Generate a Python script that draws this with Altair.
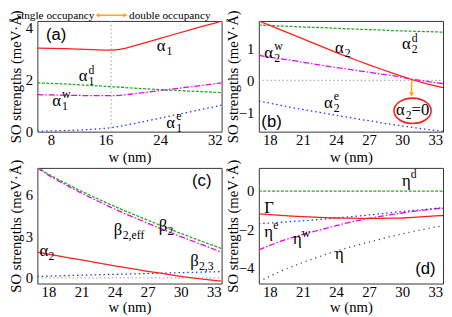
import altair as alt
import pandas as pd

SERIF = "Liberation Serif, Times New Roman, Times, serif"
SANS = "Liberation Sans, Arial, Helvetica, sans-serif"
RED = "#ff1f1f"
GREEN = "#22aa22"
MAGENTA = "#f000f0"
BLUE = "#2a2aff"
GRAY = "#999999"
DARK = "#444444"
ORANGE = "#ffa41c"
YTITLE = "SO strengths (meV·Å)"
XTITLE = "w (nm)"

# ---------------- panel (a) data ----------------
w_a = [6, 8, 10, 12, 14, 16, 17, 18, 19, 20, 22, 24, 26, 28, 30, 32, 33]
alpha1 = [3.21, 3.20, 3.19, 3.17, 3.15, 3.13, 3.13, 3.16, 3.21, 3.28, 3.43, 3.58, 3.73, 3.88, 4.03, 4.17, 4.24]
alpha1_d = [1.87, 1.85, 1.83, 1.80, 1.77, 1.74, 1.72, 1.71, 1.69, 1.67, 1.64, 1.61, 1.59, 1.56, 1.54, 1.51, 1.50]
alpha1_w = [1.42, 1.41, 1.40, 1.39, 1.38, 1.38, 1.38, 1.39, 1.42, 1.45, 1.51, 1.58, 1.64, 1.71, 1.77, 1.84, 1.87]
alpha1_e = [0.02, 0.03, 0.04, 0.06, 0.09, 0.13, 0.16, 0.20, 0.25, 0.30, 0.41, 0.52, 0.63, 0.74, 0.85, 0.96, 1.02]
w_split = [16.8]

# ---------------- panels (b)-(d) data ----------------
w_b = [17, 18, 19, 20, 21, 22, 23, 24, 25, 26, 27, 28, 29, 30, 31, 32, 33, 33.7]
alpha2 = [1.85, 1.71, 1.57, 1.43, 1.29, 1.15, 1.01, 0.87, 0.74, 0.61, 0.48, 0.36, 0.24, 0.12, 0.01, -0.09, -0.17, -0.23]
alpha2_d = [1.72, 1.71, 1.69, 1.68, 1.66, 1.65, 1.64, 1.62, 1.61, 1.59, 1.58, 1.57, 1.55, 1.54, 1.53, 1.52, 1.51, 1.50]
alpha2_w = [0.78, 0.72, 0.67, 0.62, 0.56, 0.51, 0.45, 0.40, 0.35, 0.30, 0.25, 0.20, 0.15, 0.09, 0.03, -0.02, -0.07, -0.10]
alpha2_e = [-0.65, -0.71, -0.78, -0.85, -0.91, -0.97, -1.03, -1.09, -1.15, -1.21, -1.26, -1.32, -1.37, -1.42, -1.47, -1.52, -1.56, -1.59]

beta2 = [7.95, 7.45, 7.02, 6.61, 6.22, 5.85, 5.49, 5.14, 4.80, 4.47, 4.15, 3.83, 3.51, 3.20, 2.90, 2.60, 2.31, 2.12]
beta2_eff = [7.90, 7.38, 6.93, 6.50, 6.09, 5.70, 5.32, 4.95, 4.60, 4.26, 3.93, 3.60, 3.28, 2.97, 2.67, 2.37, 2.06, 1.85]
beta23 = [0.10, 0.13, 0.15, 0.18, 0.20, 0.22, 0.24, 0.26, 0.28, 0.30, 0.32, 0.34, 0.36, 0.38, 0.40, 0.42, 0.44, 0.45]

eta_d = [0.0] * len(w_b)
gamma = [-1.18, -1.22, -1.26, -1.30, -1.33, -1.36, -1.38, -1.40, -1.41, -1.42, -1.42, -1.42, -1.41, -1.40, -1.37, -1.33, -1.29, -1.27]
eta_e = [-1.70, -1.66, -1.62, -1.58, -1.54, -1.50, -1.45, -1.40, -1.35, -1.30, -1.24, -1.18, -1.12, -1.06, -1.01, -0.96, -0.90, -0.87]
eta_w = [-3.05, -2.82, -2.60, -2.42, -2.25, -2.10, -1.95, -1.80, -1.65, -1.53, -1.42, -1.32, -1.22, -1.14, -1.06, -0.99, -0.92, -0.89]
eta = [-4.70, -4.42, -4.15, -3.92, -3.70, -3.50, -3.30, -3.12, -2.95, -2.80, -2.65, -2.50, -2.35, -2.22, -2.10, -1.98, -1.87, -1.80]

zero_w = [17, 33.7]
zero_v = [0.0, 0.0]

# ---------------- tick values ----------------
xt_a = [8, 16, 24, 32]
xt_b = [18, 21, 24, 27, 30, 33]
yt_a = [0, 2, 4]
yt_b = [-1, 0, 1]
yt_c = [0, 3, 6]
yt_d = [-4, -2, 0]

# ---------------- labels ----------------
lab_a = dict(w=[23.5, 12.06, 8.17, 24.9], v=[3.09, 1.93, 0.98, 0.13],
             t=["α", "α", "α", "α"], sub=["1", "1", "1", "1"], sup=["", "d", "w", "e"])
lab_b = dict(w=[17.5, 23.9, 29.97, 22.9], v=[0.70, 0.85, 0.965, -0.86],
             t=["α", "α", "α", "α"], sub=["2", "2", "2", "2"], sup=["w", "", "d", "e"])
lab_c = dict(w=[28.0, 23.93, 17.2, 30.85], v=[3.37, 3.09, 1.55, 0.86],
             t=["β", "β", "α", "β"], sub=["2", "2,eff", "2", "2,3"], sup=["", "", "", ""])
lab_d = dict(w=[29.97, 17.5, 17.5, 20.1, 23.9], v=[0.285, -1.14, -2.36, -2.77, -3.53],
             t=["η", "Γ", "η", "η", "η"], sub=["", "", "", "", ""], sup=["d", "", "e", "w", ""])

letters = {"a": (8.74, 3.72), "b": (18.15, -1.31), "c": (31.9, 6.96), "d": (32.1, -4.06)}

occ_w = [14.37, 19.43]
occ_v = [4.325, 4.325]
occ_t = ["single occupancy", "double occupancy"]
arrow_w = [14.8, 18.9]
arrow_v = 4.47

ELLIPSE = "M -1 0 A 1 0.68 0 1 1 1 0 A 1 0.68 0 1 1 -1 0 Z"


def make_enc(xdom, ydom, xticks, yticks, title_x, title_y_off):
    xs = alt.Scale(domain=xdom, nice=False, zero=False)
    ys = alt.Scale(domain=ydom, nice=False, zero=False)
    xa = alt.Axis(values=xticks, title=XTITLE, titleY=title_y_off, titleBaseline="alphabetic",
                  labelPadding=1, labelFlush=False, labelOverlap=False)
    ya = alt.Axis(values=yticks, title=YTITLE, titleX=title_x, titleBaseline="alphabetic",
                  labelPadding=5, labelFlush=False, labelOverlap=False)
    return dict(x=alt.X("w:Q", scale=xs, axis=xa), y=alt.Y("v:Q", scale=ys, axis=ya))


def line(w, v, e, color, dash=None, width=1.3):
    kw = dict(color=color, strokeWidth=width, clip=True)
    if dash:
        kw["strokeDash"] = dash
    return alt.Chart(pd.DataFrame({"w": w, "v": v})).mark_line(**kw).encode(**e)


def greek(lab, e, dx=10):
    df = pd.DataFrame(lab)
    main = alt.Chart(df).mark_text(align="left", baseline="alphabetic", font=SERIF,
                                   fontSize=17, color="black").encode(**e, text="t:N")
    sub = alt.Chart(df).mark_text(align="left", baseline="alphabetic", font=SERIF,
                                  fontSize=12, color="black", dx=dx, dy=4).encode(**e, text="sub:N")
    sup = alt.Chart(df).mark_text(align="left", baseline="alphabetic", font=SERIF,
                                  fontSize=12, color="black", dx=dx, dy=-8).encode(**e, text="sup:N")
    return [main, sub, sup]


def letter(key, e):
    w, v = letters[key]
    df = pd.DataFrame({"w": [w], "v": [v], "t": ["(" + key + ")"]})
    return alt.Chart(df).mark_text(font=SANS, fontSize=17, align="center", baseline="middle",
                                   color="black").encode(**e, text="t:N")


# ---------------- panel (a) ----------------
ea = make_enc([6, 33], [0, 4.25], xt_a, yt_a, -17, 30)
helper = alt.Chart(pd.DataFrame({"k": [0]})).mark_rule(opacity=0).encode(
    x=alt.value(-50), x2=alt.value(0), y=alt.value(-30))
split = alt.Chart(pd.DataFrame({"w": w_split})).mark_rule(
    color=GRAY, strokeDash=[1.5, 2.5], strokeWidth=1).encode(x=ea["x"])
occ_l = alt.Chart(pd.DataFrame({"w": occ_w[:1], "v": occ_v[:1], "t": occ_t[:1]})).mark_text(
    align="right", baseline="alphabetic", font=SERIF, fontSize=11.5, color="black").encode(**ea, text="t:N")
occ_r = alt.Chart(pd.DataFrame({"w": occ_w[1:], "v": occ_v[1:], "t": occ_t[1:]})).mark_text(
    align="left", baseline="alphabetic", font=SERIF, fontSize=11.5, color="black").encode(**ea, text="t:N")
arr = pd.DataFrame({"w": arrow_w[:1], "w2": arrow_w[1:], "v": [arrow_v]})
arr_line = alt.Chart(arr).mark_rule(color=ORANGE, strokeWidth=1.5).encode(
    x=ea["x"], x2="w2:Q", y=ea["y"])
heads = pd.DataFrame({"w": arrow_w, "v": [arrow_v, arrow_v], "s": ["triangle-left", "triangle-right"]})
arr_heads = alt.Chart(heads).mark_point(filled=True, size=22, color=ORANGE, opacity=1).encode(
    **ea, shape=alt.Shape("s:N", scale=None))

panel_a = alt.layer(
    helper, split,
    line(w_a, alpha1_e, ea, BLUE, [1.5, 3]),
    line(w_a, alpha1_w, ea, MAGENTA, [6, 2, 1.5, 2]),
    line(w_a, alpha1_d, ea, GREEN, [3, 1.5]),
    line(w_a, alpha1, ea, RED),
    *greek(lab_a, ea), letter("a", ea),
    occ_l, occ_r, arr_line, arr_heads,
).properties(width=188, height=113)

# ---------------- panel (b) ----------------
eb = make_enc([17, 33.7], [-1.6, 1.85], xt_b, yt_b, -22, 30)
ell = alt.Chart(pd.DataFrame({"w": [30.94], "v": [-0.95]})).mark_point(
    shape=ELLIPSE, size=1444, filled=False, stroke=RED, strokeWidth=1.6, opacity=1).encode(**eb)
eq = pd.DataFrame({"w": [29.43], "v": [-1.09], "t": ["α"], "sub": ["2"], "r": ["=0"]})
eq_main = alt.Chart(eq).mark_text(align="left", baseline="alphabetic", font=SERIF, fontSize=17,
                                  color="black").encode(**eb, text="t:N")
eq_sub = alt.Chart(eq).mark_text(align="left", baseline="alphabetic", font=SERIF, fontSize=12,
                                 color="black", dx=10, dy=4).encode(**eb, text="sub:N")
eq_rest = alt.Chart(eq).mark_text(align="left", baseline="alphabetic", font=SERIF, fontSize=17,
                                  color="black", dx=16).encode(**eb, text="r:N")
down = pd.DataFrame({"w": [30.85], "v": [0.0], "v2": [-0.40]})
down_line = alt.Chart(down).mark_rule(color=ORANGE, strokeWidth=1.5).encode(x=eb["x"], y=eb["y"], y2="v2:Q")
down_head = alt.Chart(pd.DataFrame({"w": [30.85], "v": [-0.44]})).mark_point(
    shape="triangle-down", filled=True, size=28, color=ORANGE, opacity=1).encode(**eb)

panel_b = alt.layer(
    line(zero_w, zero_v, eb, GRAY, [1.5, 2.5], 1),
    line(w_b, alpha2_e, eb, BLUE, [1.5, 3]),
    line(w_b, alpha2_w, eb, MAGENTA, [6, 2, 1.5, 2]),
    line(w_b, alpha2_d, eb, GREEN, [3, 1.5]),
    line(w_b, alpha2, eb, RED),
    down_line, down_head, ell, eq_main, eq_sub, eq_rest,
    *greek(lab_b, eb), letter("b", eb),
).properties(width=188, height=113)

# ---------------- panel (c) ----------------
ec = make_enc([17, 33.7], [-0.4, 7.9], xt_b, yt_c, -17, 29)
panel_c = alt.layer(
    line(zero_w, zero_v, ec, GRAY, [1.5, 2.5], 1),
    line(w_b, beta23, ec, BLUE, [1.5, 3]),
    line(w_b, alpha2, ec, RED),
    line(w_b, beta2_eff, ec, MAGENTA, [6, 2, 1.5, 2]),
    line(w_b, beta2, ec, GREEN, [3, 1.5]),
    *greek(lab_c, ec, dx=9), letter("c", ec),
).properties(width=188, height=118)

# ---------------- panel (d) ----------------
ed = make_enc([17, 33.7], [-4.8, 1.2], xt_b, yt_d, -22, 29)
panel_d = alt.layer(
    line(w_b, eta_d, ed, GREEN, [3, 1.5]),
    line(w_b, eta, ed, DARK, [1.2, 4]),
    line(w_b, eta_w, ed, MAGENTA, [6, 2, 1.5, 2]),
    line(w_b, eta_e, ed, BLUE, [1.5, 3]),
    line(w_b, gamma, ed, RED),
    *greek(lab_d, ed, dx=9), letter("d", ed),
).properties(width=188, height=118)

chart = alt.concat(
    panel_a, panel_b, panel_c, panel_d,
    columns=2, spacing={"row": 37, "column": 38}, bounds="flush",
).properties(
    padding={"left": -21, "top": -21, "right": 0, "bottom": 0},
    background="white",
).configure_view(
    stroke="#333333", strokeWidth=1,
).configure_axis(
    grid=False, domain=False, ticks=False, tickSize=0,
    labelFont=SERIF, labelFontSize=15, labelColor="black",
    titleFont=SERIF, titleFontSize=15, titleFontWeight="normal", titleColor="black",
)

chart.save("out.html", embed_options={"renderer": "svg", "actions": False})
